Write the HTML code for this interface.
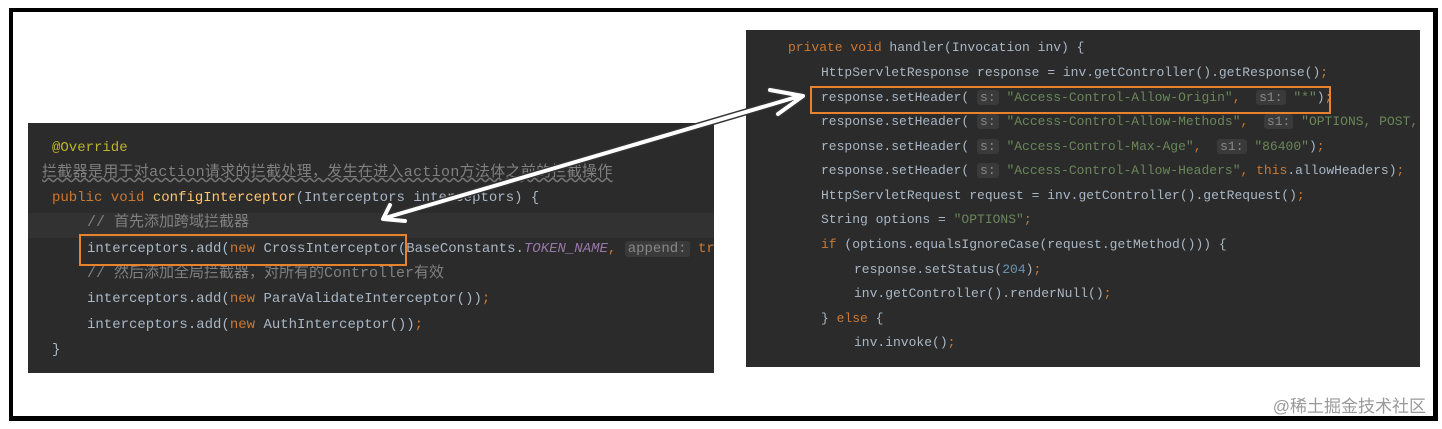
<!DOCTYPE html>
<html><head><meta charset="utf-8"><style>
body{margin:0;width:1442px;height:429px;background:#fff;position:relative;overflow:hidden;font-family:"Liberation Mono","Noto Sans CJK SC",monospace}
.frame{position:absolute;left:9px;top:8px;width:1420px;height:404px;border:4px solid #000;border-bottom-width:5px;border-right-width:5px}
.p{position:absolute;background:#2b2b2b;color:#a9b7c6;white-space:pre;overflow:hidden}
.l{position:absolute;line-height:20px}
.k{color:#cc7832}.s{color:#6a8759}.c{color:#808080}.f{color:#ffc66d}.a{color:#bbb529}.n{color:#6897bb}.i{color:#9876aa;font-style:italic}
.h{background:#3a3a3a;color:#888;padding:0 3px;border-radius:3px}
.box{position:absolute;border:2px solid #e8822c}
.wm{position:absolute;right:16px;top:392px;color:#999;font-family:"Liberation Sans","Noto Sans CJK SC",sans-serif;font-size:17px}
</style></head><body>
<div class="frame"></div>
<div class="p" style="left:28px;top:123px;width:686px;height:250px;font-size:14px">
<div style="position:absolute;left:0;top:90px;width:686px;height:25px;background:#323232"></div>
<div class="l a" style="left:24px;top:15px">@Override</div>
<div class="l c" style="left:14px;top:40px;font-size:15px;letter-spacing:0.3px;text-decoration:underline wavy #777">拦截器是用于对action请求的拦截处理，发生在进入action方法体之前的拦截操作</div>
<div class="l" style="left:24px;top:65px"><span class="k">public void </span><span class="f">configInterceptor</span>(Interceptors interceptors) {</div>
<div class="l c" style="left:59px;top:90px;font-size:15px">// 首先添加跨域拦截器</div>
<div class="l" style="left:59px;top:116px">interceptors.add(<span class="k">new </span>CrossInterceptor(BaseConstants.<span class="i">TOKEN_NAME</span><span class="k">, </span><span class="h">append:</span> <span class="k">true</span></div>
<div class="l c" style="left:59px;top:141px;font-size:15px">// 然后添加全局拦截器，对所有的Controller有效</div>
<div class="l" style="left:59px;top:166px">interceptors.add(<span class="k">new </span>ParaValidateInterceptor())<span class="k">;</span></div>
<div class="l" style="left:59px;top:192px">interceptors.add(<span class="k">new </span>AuthInterceptor())<span class="k">;</span></div>
<div class="l" style="left:24px;top:217px">}</div>
</div>
<div class="box" style="left:79px;top:234px;width:324px;height:28px"></div>
<div class="p" style="left:746px;top:30px;width:674px;height:337px;font-size:13px">
<div class="l" style="left:42px;top:8px"><span class="k">private void </span>handler(Invocation inv) {</div>
<div class="l" style="left:75px;top:33px">HttpServletResponse response = inv.getController().getResponse()<span class="k">;</span></div>
<div class="l" style="left:75px;top:58px">response.setHeader( <span class="h">s:</span> <span class="s">"Access-Control-Allow-Origin"</span><span class="k">, </span> <span class="h">s1:</span> <span class="s">"*"</span>)<span class="k">;</span></div>
<div class="l" style="left:75px;top:82px">response.setHeader( <span class="h">s:</span> <span class="s">"Access-Control-Allow-Methods"</span><span class="k">, </span> <span class="h">s1:</span> <span class="s">"OPTIONS, POST, GET"</span></div>
<div class="l" style="left:75px;top:107px">response.setHeader( <span class="h">s:</span> <span class="s">"Access-Control-Max-Age"</span><span class="k">, </span> <span class="h">s1:</span> <span class="s">"86400"</span>)<span class="k">;</span></div>
<div class="l" style="left:75px;top:131px">response.setHeader( <span class="h">s:</span> <span class="s">"Access-Control-Allow-Headers"</span><span class="k">, this</span>.allowHeaders)<span class="k">;</span></div>
<div class="l" style="left:75px;top:156px">HttpServletRequest request = inv.getController().getRequest()<span class="k">;</span></div>
<div class="l" style="left:75px;top:180px">String options = <span class="s">"OPTIONS"</span><span class="k">;</span></div>
<div class="l" style="left:75px;top:205px"><span class="k">if </span>(options.equalsIgnoreCase(request.getMethod())) {</div>
<div class="l" style="left:108px;top:230px">response.setStatus(<span class="n">204</span>)<span class="k">;</span></div>
<div class="l" style="left:108px;top:254px">inv.getController().renderNull()<span class="k">;</span></div>
<div class="l" style="left:75px;top:279px">} <span class="k">else </span>{</div>
<div class="l" style="left:108px;top:303px">inv.invoke()<span class="k">;</span></div>
</div>
<div class="box" style="left:810px;top:86px;width:517px;height:24px"></div>
<svg style="position:absolute;left:0;top:0" width="1442" height="429">
<g stroke-linecap="round" stroke-linejoin="round" fill="none">
<path d="M385 218 L800 96 M770 90 L803 96 L778 114 M390 205 L383 219 L405 221" stroke="#333" stroke-width="7"/>
<path d="M385 218 L800 96 M770 90 L803 96 L778 114 M390 205 L383 219 L405 221" stroke="#fff" stroke-width="4"/>
</g></svg>
<div class="wm">@稀土掘金技术社区</div>
</body></html>
